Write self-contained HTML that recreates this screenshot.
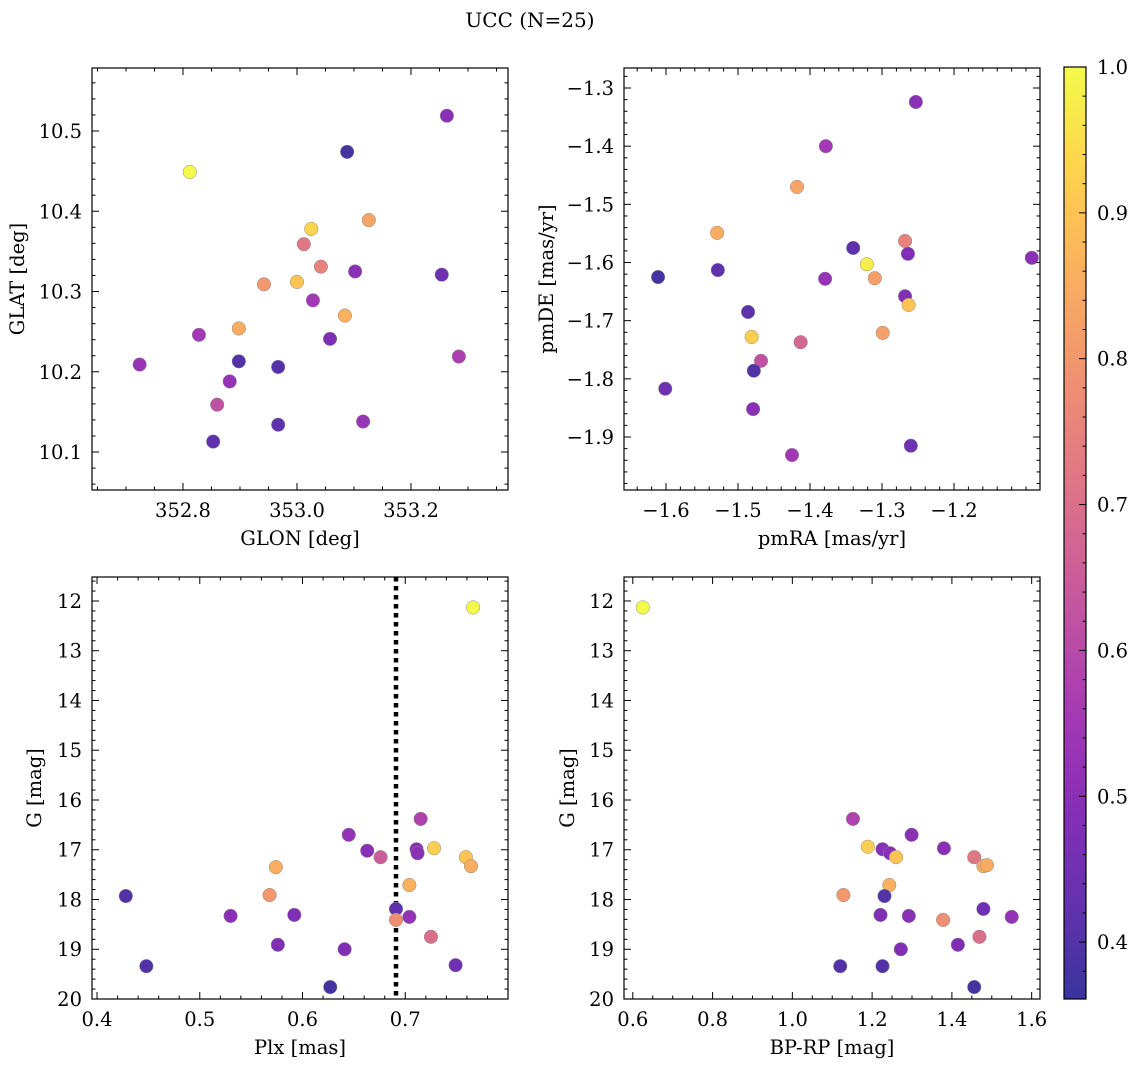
<!DOCTYPE html>
<html><head><meta charset="utf-8">
<style>
body{margin:0;background:#fff;}
svg{display:block;font-family:"DejaVu Serif","Liberation Serif",serif;}
</style></head>
<body>
<svg id="fig" width="1136" height="1067" viewBox="0 0 1136 1067" xmlns="http://www.w3.org/2000/svg">
<rect width="1136" height="1067" fill="#fff"/>
<text x="530" y="27" font-size="20" text-anchor="middle">UCC (N=25)</text>
</svg>
<script>
// ---- data ----
const p1Glon=[352.812,353.088,353.263,353.025,353.126,353.012,353.042,353.102,353.254,352.942,353.0,353.028,353.084,352.898,352.828,353.058,353.284,352.724,352.898,352.967,352.882,352.860,353.116,352.967,352.853];
const p1Glat=[10.449,10.474,10.519,10.378,10.389,10.359,10.331,10.325,10.321,10.309,10.312,10.289,10.270,10.254,10.246,10.241,10.219,10.209,10.213,10.206,10.188,10.159,10.138,10.134,10.113];
const p1Prob=[1.0,0.38,0.5,0.93,0.83,0.72,0.75,0.5,0.45,0.8,0.9,0.55,0.86,0.85,0.55,0.48,0.57,0.53,0.4,0.4,0.52,0.62,0.53,0.42,0.42];

const p2Pmra=[-1.253,-1.378,-1.418,-1.529,-1.340,-1.611,-1.528,-1.321,-1.268,-1.264,-1.092,-1.379,-1.310,-1.268,-1.263,-1.486,-1.299,-1.481,-1.413,-1.468,-1.478,-1.601,-1.479,-1.260,-1.425];
const p2Pmde=[-1.324,-1.400,-1.470,-1.549,-1.575,-1.625,-1.613,-1.603,-1.563,-1.585,-1.592,-1.628,-1.627,-1.658,-1.673,-1.685,-1.721,-1.728,-1.737,-1.769,-1.786,-1.817,-1.852,-1.915,-1.931];
const p2Prob=[0.5,0.55,0.83,0.85,0.42,0.38,0.42,0.98,0.75,0.48,0.5,0.52,0.82,0.48,0.9,0.42,0.82,0.92,0.68,0.62,0.4,0.45,0.5,0.45,0.55];

const p3Plx=[0.766,0.715,0.645,0.663,0.676,0.711,0.712,0.728,0.759,0.764,0.574,0.704,0.428,0.568,0.691,0.530,0.592,0.704,0.691,0.725,0.576,0.641,0.448,0.749,0.627];
const p3G=[12.13,16.38,16.70,17.02,17.15,16.99,17.07,16.97,17.15,17.33,17.35,17.71,17.93,17.91,18.19,18.33,18.31,18.35,18.41,18.75,18.91,19.0,19.34,19.32,19.76];
const p3Prob=[1.0,0.58,0.52,0.5,0.65,0.5,0.5,0.92,0.9,0.85,0.85,0.86,0.4,0.8,0.42,0.5,0.48,0.52,0.78,0.7,0.48,0.48,0.4,0.45,0.38];
const plxLine=0.691;

const p4Bprp=[0.625,1.152,1.299,1.189,1.226,1.245,1.26,1.380,1.456,1.479,1.488,1.243,1.128,1.231,1.479,1.221,1.292,1.378,1.550,1.469,1.415,1.272,1.120,1.226,1.456];
const p4G=[12.13,16.38,16.70,16.94,16.99,17.07,17.15,16.97,17.15,17.33,17.31,17.71,17.91,17.93,18.19,18.31,18.33,18.41,18.35,18.75,18.91,19.0,19.34,19.34,19.76];
const p4Prob=[1.0,0.58,0.5,0.92,0.5,0.5,0.9,0.5,0.72,0.85,0.85,0.86,0.8,0.4,0.45,0.48,0.5,0.78,0.52,0.7,0.48,0.48,0.4,0.4,0.38];

const cbTicks=[0.4,0.5,0.6,0.7,0.8,0.9,1.0];
const cbLabels=["0.4","0.5","0.6","0.7","0.8","0.9","1.0"];
const cMin=0.361,cMax=1.0;

// ---- helpers ----
const NS="http://www.w3.org/2000/svg";
const fig=document.getElementById('fig');
const FS=19.5;
function mk(tag,attrs,parent){const e=document.createElementNS(NS,tag);for(const k in attrs)e.setAttribute(k,attrs[k]);(parent||fig).appendChild(e);return e;}
const stops=["#0d0887","#41049d","#6a00a8","#8f0da4","#b12a90","#cc4778","#e16462","#f2844b","#fca636","#fcce25","#f0f921"];
function hex(h){return[parseInt(h.slice(1,3),16),parseInt(h.slice(3,5),16),parseInt(h.slice(5,7),16)];}
function plasma(t,a){t=Math.max(0,Math.min(1,t));const f=t*10,i=Math.min(9,Math.floor(f)),u=f-i;const c0=hex(stops[i]),c1=hex(stops[i+1]);
 const c=c0.map((v,k)=>v+(c1[k]-v)*u).map(v=>Math.round(a*v+(1-a)*255));return `rgb(${c[0]},${c[1]},${c[2]})`;}
function col(p){return plasma((p-cMin)/(cMax-cMin),0.82);}
function fmt(v,d){return (v<0?"\u2212":"")+Math.abs(v).toFixed(d);}

function panel(o){
 const g=mk('g',{});
 
 
 const sx=v=>o.x0+(v-o.xd[0])/(o.xd[1]-o.xd[0])*(o.x1-o.x0);
 const sy=v=>o.y0+(v-o.yd[0])/(o.yd[1]-o.yd[0])*(o.y1-o.y0);
 const tk=mk('g',{stroke:'#000','stroke-width':1},g);
 
 
 const lo=Math.min(o.xd[0],o.xd[1]),hi=Math.max(o.xd[0],o.xd[1]);
 for(let v=Math.ceil(lo/o.xmin-1e-6)*o.xmin;v<=hi+1e-9;v+=o.xmin){const x=sx(v);const maj=o.xt.some(t=>Math.abs(t-v)<o.xmin/10);const L=maj?7:3.5;
  mk('line',{x1:x,x2:x,y1:o.y1,y2:o.y1-L},tk);mk('line',{x1:x,x2:x,y1:o.y0,y2:o.y0+L},tk);}
 const ylo=Math.min(o.yd[0],o.yd[1]),yhi=Math.max(o.yd[0],o.yd[1]);
 for(let v=Math.ceil(ylo/o.ymin-1e-6)*o.ymin;v<=yhi+1e-9;v+=o.ymin){const y=sy(v);const maj=o.yt.some(t=>Math.abs(t-v)<o.ymin/10);const L=maj?7:3.5;
  mk('line',{x1:o.x0,x2:o.x0+L,y1:y,y2:y},tk);mk('line',{x1:o.x1,x2:o.x1-L,y1:y,y2:y},tk);}
 o.xt.forEach((t,i)=>{const e=mk('text',{x:sx(t),y:o.y1+27,'font-size':FS,'text-anchor':'middle'},g);e.textContent=o.xl[i];
  
  });
 o.yt.forEach((t,i)=>{const e=mk('text',{x:o.x0-10,y:sy(t)+7,'font-size':FS,'text-anchor':'end'},g);e.textContent=o.yl[i];
  
  });
 const xt=mk('text',{x:(o.x0+o.x1)/2,y:o.y1+55,'font-size':FS,'text-anchor':'middle'},g);xt.textContent=o.xlab;
 
 
 const yt=mk('text',{x:0,y:0,'font-size':FS,'text-anchor':'middle',transform:`translate(${o.ylx},${(o.y0+o.y1)/2}) rotate(-90)`},g);yt.textContent=o.ylab;
 
 
 if(o.vline!==undefined){const l=mk('line',{x1:sx(o.vline),x2:sx(o.vline),y1:o.y0,y2:o.y1,stroke:'#000','stroke-width':4.5,'stroke-dasharray':'4.5 4.5'},g);
  
  }
 o.xs.forEach((v,i)=>{const c=mk('circle',{cx:sx(v),cy:sy(o.ys[i]),r:6.8,fill:col(o.ps[i]),stroke:'#8a8a8a','stroke-width':0.5},g);
  
  });
 const fr=mk('rect',{x:o.x0,y:o.y0,width:o.x1-o.x0,height:o.y1-o.y0,fill:'none',stroke:'#000','stroke-width':1.2},g);
 
 
}

panel({name:'glon-glat-panel',x0:92,x1:508,y0:68,y1:490,xd:[352.6404,353.3702],yd:[10.5785,10.0527],
 xt:[352.8,353.0,353.2],xl:["352.8","353.0","353.2"],xmin:0.05,
 yt:[10.1,10.2,10.3,10.4,10.5],yl:["10.1","10.2","10.3","10.4","10.5"],ymin:0.02,
 xlab:"GLON [deg]",ylab:"GLAT [deg]",ylx:24,xs:p1Glon,ys:p1Glat,ps:p1Prob});
panel({name:'pm-panel',x0:624,x1:1040,y0:68,y1:490,xd:[-1.6583,-1.0806],yd:[-1.2656,-1.9911],
 xt:[-1.6,-1.5,-1.4,-1.3,-1.2],xl:[-1.6,-1.5,-1.4,-1.3,-1.2].map(v=>fmt(v,1)),xmin:0.02,
 yt:[-1.9,-1.8,-1.7,-1.6,-1.5,-1.4,-1.3],yl:[-1.9,-1.8,-1.7,-1.6,-1.5,-1.4,-1.3].map(v=>fmt(v,1)),ymin:0.02,
 xlab:"pmRA [mas/yr]",ylab:"pmDE [mas/yr]",ylx:553,xs:p2Pmra,ys:p2Pmde,ps:p2Prob});
panel({name:'plx-g-panel',x0:92,x1:508,y0:577,y1:999,xd:[0.3951,0.8],yd:[11.518,20],
 xt:[0.4,0.5,0.6,0.7],xl:["0.4","0.5","0.6","0.7"],xmin:0.02,
 yt:[12,13,14,15,16,17,18,19,20],yl:["12","13","14","15","16","17","18","19","20"],ymin:0.2,
 xlab:"Plx [mas]",ylab:"G [mag]",ylx:41,xs:p3Plx,ys:p3G,ps:p3Prob,vline:plxLine});
panel({name:'cmd-panel',x0:624,x1:1040,y0:577,y1:999,xd:[0.5779,1.6209],yd:[11.518,20],
 xt:[0.6,0.8,1.0,1.2,1.4,1.6],xl:["0.6","0.8","1.0","1.2","1.4","1.6"],xmin:0.05,
 yt:[12,13,14,15,16,17,18,19,20],yl:["12","13","14","15","16","17","18","19","20"],ymin:0.2,
 xlab:"BP-RP [mag]",ylab:"G [mag]",ylx:574,xs:p4Bprp,ys:p4G,ps:p4Prob});

// colorbar
(function(){
 const x0=1064,x1=1086,y0=67,y1=999;
 const g=mk('g',{});
 
 
 const defs=mk('defs',{},g);
 const lg=mk('linearGradient',{id:'cbg',x1:0,y1:1,x2:0,y2:0},defs);
 for(let i=0;i<=20;i++){mk('stop',{offset:(i/20),'stop-color':plasma(i/20,0.82)},lg);}
 mk('rect',{x:x0,y:y0,width:x1-x0,height:y1-y0,fill:'url(#cbg)'},g);
 const sy=v=>y1-(v-cMin)/(cMax-cMin)*(y1-y0);
 for(let v=0.38;v<=1.0001;v+=0.02){const y=sy(v);const maj=cbTicks.some(t=>Math.abs(t-v)<0.005);
  mk('line',{x1:x1,x2:x1-(maj?7:3.5),y1:y,y2:y,stroke:'#000','stroke-width':1},g);}
 cbTicks.forEach((t,i)=>{const e=mk('text',{x:x1+11,y:sy(t)+7,'font-size':FS},g);e.textContent=cbLabels[i];
  
  });
 mk('rect',{x:x0,y:y0,width:x1-x0,height:y1-y0,fill:'none',stroke:'#000','stroke-width':1.2},g);
})();
</script>
</body></html>
